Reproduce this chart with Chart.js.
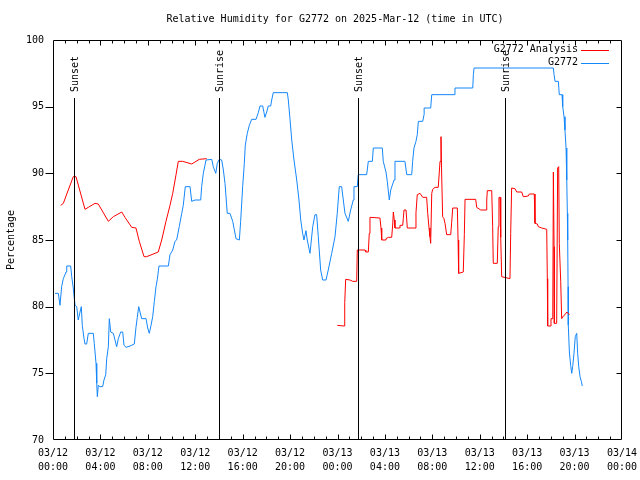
<!DOCTYPE html>
<html>
<head>
<meta charset="utf-8">
<title>Relative Humidity G2772</title>
<script src="https://cdn.jsdelivr.net/npm/chart.js@4.4.1/dist/chart.umd.min.js"></script>
<style>
  html, body { margin: 0; padding: 0; background: #fff; }
  canvas { display: block; }
</style>
</head>
<body>
<canvas id="chart" width="640" height="480"></canvas>
<script>
// hours since 03/12 00:00 UTC
const obsHours = [
  0.17, 0.45, 0.59, 0.73, 0.87, 1.10, 1.16, 1.49, 1.58, 1.71, 1.80, 1.86, 2.00, 2.13, 2.28, 2.39,
  2.47, 2.62, 2.70, 2.84, 2.98, 3.40, 3.48, 3.63, 3.69, 3.74, 3.82, 3.96, 4.19, 4.30, 4.45, 4.53,
  4.67, 4.75, 4.87, 5.09, 5.23, 5.37, 5.51, 5.71, 5.88, 5.99, 6.16, 6.50, 6.86, 7.00, 7.11, 7.23,
  7.34, 7.48, 7.85, 7.99, 8.12, 8.27, 8.41, 8.55, 8.69, 8.80, 8.94, 9.73, 9.87, 10.10, 10.29, 10.43,
  10.65, 10.86, 10.99, 11.16, 11.56, 11.70, 11.98, 12.46, 12.54, 12.68, 12.91, 13.39, 13.52, 13.73,
  13.86, 14.03, 14.23, 14.37, 14.51, 14.70, 14.93, 15.16, 15.44, 15.72, 15.83, 16.00, 16.14, 16.22,
  16.39, 16.56, 16.76, 17.13, 17.32, 17.46, 17.69, 17.88, 18.03, 18.16, 18.36, 18.45, 18.58, 19.77,
  19.85, 19.99, 20.14, 20.33, 20.56, 20.75, 20.90, 21.06, 21.17, 21.34, 21.45, 21.68, 21.91, 22.10,
  22.24, 22.38, 22.58, 22.75, 23.03, 23.22, 23.51, 23.79, 23.98, 24.15, 24.35, 24.49, 24.63, 24.91,
  25.11, 25.33, 25.39, 25.67, 25.75, 26.46, 26.60, 26.94, 27.02, 27.78, 27.86, 28.09, 28.20, 28.37,
  28.49, 28.77, 28.85, 29.69, 29.84, 30.26, 30.34, 30.45, 30.62, 30.73, 30.82, 31.19, 31.30, 31.31,
  31.86, 31.95, 33.83, 33.91, 35.41, 35.46, 35.52, 42.21, 42.27, 42.35, 42.63, 42.71, 42.94, 43.00,
  43.11, 43.19, 43.28, 43.34, 43.39, 43.42, 43.45, 43.47, 43.56, 43.67, 43.76, 43.84, 43.95, 44.06,
  44.18, 44.26, 44.35, 44.46, 44.57, 44.65
];
const obsRH = [
  81.0, 81.0, 80.1, 81.5, 82.1, 82.6, 83.05, 83.05, 82.25, 81.4, 80.6, 80.1, 80.0, 79.0, 79.6, 80.0,
  78.6, 77.6, 77.2, 77.2, 78.0, 78.0, 77.25, 75.75, 74.25, 73.25, 74.1, 74.0, 74.0, 74.5, 74.9, 76.1,
  77.0, 79.1, 78.1, 78.0, 77.5, 77.0, 77.6, 78.1, 78.1, 77.1, 76.95, 77.05, 77.2, 78.45, 79.2, 80.0,
  79.6, 79.1, 79.1, 78.4, 78.0, 78.6, 79.25, 80.4, 81.5, 82.05, 83.05, 83.05, 83.9, 84.25, 84.9, 85.0,
  86.0, 87.0, 87.6, 89.0, 89.0, 87.9, 88.0, 88.0, 89.0, 90.0, 91.0, 91.05, 90.5, 90.0,
  90.75, 91.05, 91.0, 90.25, 89.25, 87.0, 87.0, 86.4, 85.1, 85.0, 86.4, 89.0, 90.75, 92.1,
  93.0, 93.6, 94.05, 94.05, 94.55, 95.05, 95.05, 94.2, 94.6, 95.05, 95.05, 95.5, 96.05, 96.05,
  95.5, 94.1, 92.5, 91.0, 89.5, 88.0, 86.5, 85.5, 85.0, 85.7, 85.0, 84.0, 86.0, 86.9,
  86.9, 85.25, 82.75, 82.0, 82.0, 82.75, 84.0, 85.25, 87.0, 89.0, 89.0, 88.0, 87.0, 86.4,
  87.25, 88.0, 89.0, 89.0, 89.9, 89.9, 90.9, 90.9, 91.9, 91.9, 90.9, 90.1, 89.4, 88.0,
  88.75, 89.5, 90.9, 90.9, 89.9, 89.9, 90.9, 91.9, 92.4, 92.9, 93.9, 93.9, 94.4, 94.9,
  94.9, 95.9, 95.9, 96.4, 96.4, 97.4, 97.9, 97.9, 97.4, 96.9, 96.9, 95.9, 95.9, 95.0,
  94.25, 93.25, 91.9, 89.5, 87.0, 85.0, 81.5, 78.6, 76.6, 75.6, 75.0, 75.5, 76.5, 77.75,
  78.0, 76.5, 75.5, 74.75, 74.4, 74.05
];

// analysis: evening run and next-day run, with a gap between them
const anaHours1 = [
  0.65, 0.87, 1.71, 1.94, 2.70, 2.98, 3.54, 3.82, 4.67, 5.09, 5.80, 6.07, 6.64, 7.00, 7.28, 7.68,
  7.90, 8.88, 9.17, 9.53, 9.87, 10.10, 10.38, 10.57, 10.94, 11.70, 12.34, 12.97
];
const anaRH1 = [
  87.6, 87.75, 89.75, 89.75, 87.3, 87.45, 87.75, 87.7, 86.4, 86.75, 87.1, 86.7, 85.95, 85.9, 84.9, 83.75,
  83.75, 84.1, 85.0, 86.4, 87.6, 88.5, 89.9, 90.9, 90.9, 90.7, 91.05, 91.1
];
const anaHours2 = [
  23.98, 24.55, 24.61, 24.69, 25.05, 25.28, 25.62, 25.67, 26.32, 26.38, 26.60, 26.68, 26.74, 27.58,
  27.67, 27.73, 28.01, 28.09, 28.29, 28.57, 28.66, 28.71, 28.79, 28.85, 29.21, 29.27, 29.50, 29.55,
  29.61, 29.78, 29.89, 30.54, 30.62, 30.73, 30.96, 31.19, 31.52, 31.61, 31.72, 31.80, 31.86, 31.95,
  32.03, 32.23, 32.50, 32.65, 32.73, 32.79, 32.87, 32.98, 33.07, 33.21, 33.55, 33.63, 33.72, 34.11,
  34.17, 34.22, 34.61, 34.70, 34.76, 35.66, 35.74, 36.08, 36.53, 36.59, 36.64, 37.01, 37.09, 37.14,
  37.48, 37.56, 37.62, 37.71, 37.77, 37.85, 38.55, 38.61, 38.69, 38.97, 39.12, 39.54, 39.67, 40.10,
  40.18, 40.60, 40.66, 40.86, 40.94, 41.23, 41.65, 41.70, 41.73, 41.99, 42.01, 42.16, 42.21, 42.27,
  42.29, 42.49, 42.57, 42.66, 42.71, 42.83, 42.91, 43.05, 43.19, 43.34, 43.56
];
const anaRH2 = [
  78.6, 78.55, 80.3, 82.05, 82.0, 81.9, 81.9, 84.25, 84.25, 84.1, 84.1, 85.5, 86.7, 86.65,
  85.9, 85.0, 85.0, 85.1, 85.2, 85.2, 86.2, 87.1, 86.5, 85.9, 85.9, 86.1, 86.1, 86.6,
  87.25, 87.25, 85.9, 85.9, 87.05, 88.4, 88.5, 88.2, 88.2, 87.0, 85.9, 85.25, 84.75, 88.5,
  88.8, 88.95, 88.95, 90.9, 92.75, 89.8, 86.75, 86.6, 86.25, 85.4, 85.4, 86.3, 87.4, 87.4,
  85.0, 82.5, 82.6, 85.4, 88.05, 88.05, 87.45, 87.25, 87.25, 88.0, 88.7, 88.7, 86.0, 83.25,
  83.25, 86.0, 88.2, 88.2, 85.2, 82.25, 82.1, 85.5, 88.9, 88.85, 88.6, 88.6, 88.25, 88.3,
  88.45, 88.45, 86.25, 86.2, 86.0, 85.9, 85.8, 82.1, 78.55, 78.55, 79.1, 79.1, 90.1, 84.5,
  78.75, 78.75, 90.4, 90.5, 84.75, 81.9, 79.1, 79.3, 79.4, 79.6, 79.4
];

const eventHours = [1.80, 14.03, 25.76, 38.09];
const eventLabels = ["Sunset", "Sunrise", "Sunset", "Sunrise"];

const xTickLabels = [
  ["03/12", "00:00"], ["03/12", "04:00"], ["03/12", "08:00"], ["03/12", "12:00"],
  ["03/12", "16:00"], ["03/12", "20:00"], ["03/13", "00:00"], ["03/13", "04:00"],
  ["03/13", "08:00"], ["03/13", "12:00"], ["03/13", "16:00"], ["03/13", "20:00"],
  ["03/14", "00:00"]
];

const FONT_FAMILY = "'DejaVu Sans Mono', 'Liberation Mono', monospace";
const FONT = "10px " + FONT_FAMILY;
const RED = "#ff0000";
const BLUE = "rgb(20,135,250)";

const toPoints = (xs, ys) => xs.map((h, i) => ({ x: h, y: ys[i] }));

const analysisData = toPoints(anaHours1, anaRH1)
  .concat([{ x: 18, y: null }])
  .concat(toPoints(anaHours2, anaRH2));
const obsData = toPoints(obsHours, obsRH);

// gnuplot-style frame, inward ticks, day/night markers, titles and legend
const gnuplotDecor = {
  id: "gnuplotDecor",
  afterDatasetsDraw(chart) {
    const { ctx, chartArea: a, scales } = chart;
    const x = scales.x;
    const y = scales.y;
    ctx.save();
    ctx.strokeStyle = "#000";
    ctx.fillStyle = "#000";
    ctx.lineWidth = 1;
    ctx.font = FONT;

    eventHours.forEach((h, i) => {
      const px = Math.round(x.getPixelForValue(h)) + 0.5;
      ctx.beginPath();
      ctx.moveTo(px, a.top + 58);
      ctx.lineTo(px, a.bottom);
      ctx.stroke();
      ctx.save();
      ctx.translate(px + 1, a.top + 52);
      ctx.rotate(-Math.PI / 2);
      ctx.textAlign = "left";
      ctx.textBaseline = "middle";
      ctx.fillText(eventLabels[i], 0, 0);
      ctx.restore();
    });

    // border
    const l = Math.round(a.left) + 0.5;
    const r = Math.round(a.right) - 0.5;
    const t = Math.round(a.top) + 0.5;
    const b = Math.round(a.bottom) - 0.5;
    ctx.beginPath();
    ctx.rect(l, t, r - l, b - t);
    ctx.stroke();

    // x ticks every hour, top and bottom
    ctx.beginPath();
    for (let h = 1; h < 48; h++) {
      const px = Math.round(x.getPixelForValue(h)) + 0.5;
      const len = h % 4 === 0 ? 5 : 3;
      ctx.moveTo(px, b);
      ctx.lineTo(px, b - len);
      ctx.moveTo(px, t);
      ctx.lineTo(px, t + len);
    }
    // y ticks
    for (let v = 75; v < 100; v += 5) {
      const py = Math.round(y.getPixelForValue(v)) + 0.5;
      ctx.moveTo(r, py);
      ctx.lineTo(r - 5, py);
      ctx.moveTo(l - 8, py);
      ctx.lineTo(l, py);
    }
    ctx.stroke();

    // title
    ctx.textAlign = "center";
    ctx.textBaseline = "middle";
    ctx.fillText("Relative Humidity for G2772 on 2025-Mar-12 (time in UTC)", 335, 19);

    // y axis title
    ctx.save();
    ctx.translate(11, 240);
    ctx.rotate(-Math.PI / 2);
    ctx.fillText("Percentage", 0, 0);
    ctx.restore();

    // legend
    ctx.textAlign = "right";
    chart.data.datasets.forEach((ds, i) => {
      const ly = a.top + 9.5 + i * 13;
      ctx.fillStyle = "#000";
      ctx.fillText(ds.label, a.right - 44, ly);
      ctx.strokeStyle = ds.borderColor;
      ctx.beginPath();
      ctx.moveTo(a.right - 41, Math.round(ly) + 0.5);
      ctx.lineTo(a.right - 13, Math.round(ly) + 0.5);
      ctx.stroke();
    });
    ctx.restore();
  }
};

const ctx = document.getElementById("chart").getContext("2d");
new Chart(ctx, {
  type: "line",
  data: {
    datasets: [
      {
        label: "G2772 Analysis",
        data: analysisData,
        borderColor: RED,
        borderWidth: 1,
        pointRadius: 0,
        tension: 0,
        spanGaps: false
      },
      {
        label: "G2772",
        data: obsData,
        borderColor: BLUE,
        borderWidth: 1,
        pointRadius: 0,
        tension: 0
      }
    ]
  },
  options: {
    responsive: false,
    animation: false,
    events: [],
    layout: { padding: { top: 40, right: 18, left: 0, bottom: 0 } },
    plugins: {
      legend: { display: false },
      title: { display: false },
      tooltip: { enabled: false }
    },
    scales: {
      x: {
        type: "linear",
        min: 0,
        max: 48,
        grid: { display: false, drawTicks: false },
        border: { display: false },
        ticks: {
          stepSize: 4,
          autoSkip: false,
          maxRotation: 0,
          padding: 7,
          color: "#000",
          font: { family: FONT_FAMILY, size: 10, lineHeight: 1.35 },
          callback: (v) => xTickLabels[v / 4]
        },
        afterFit: (s) => {
          s.height = 40;
          s.paddingLeft = 0;
          s.paddingRight = 0;
        }
      },
      y: {
        min: 70,
        max: 100,
        grid: { display: false, drawTicks: false },
        border: { display: false },
        ticks: {
          stepSize: 5,
          padding: 9,
          color: "#000",
          font: { family: FONT_FAMILY, size: 10 }
        },
        afterFit: (s) => {
          s.width = 53;
          s.paddingTop = 0;
          s.paddingBottom = 0;
        }
      }
    }
  },
  plugins: [gnuplotDecor]
});
</script>
</body>
</html>
